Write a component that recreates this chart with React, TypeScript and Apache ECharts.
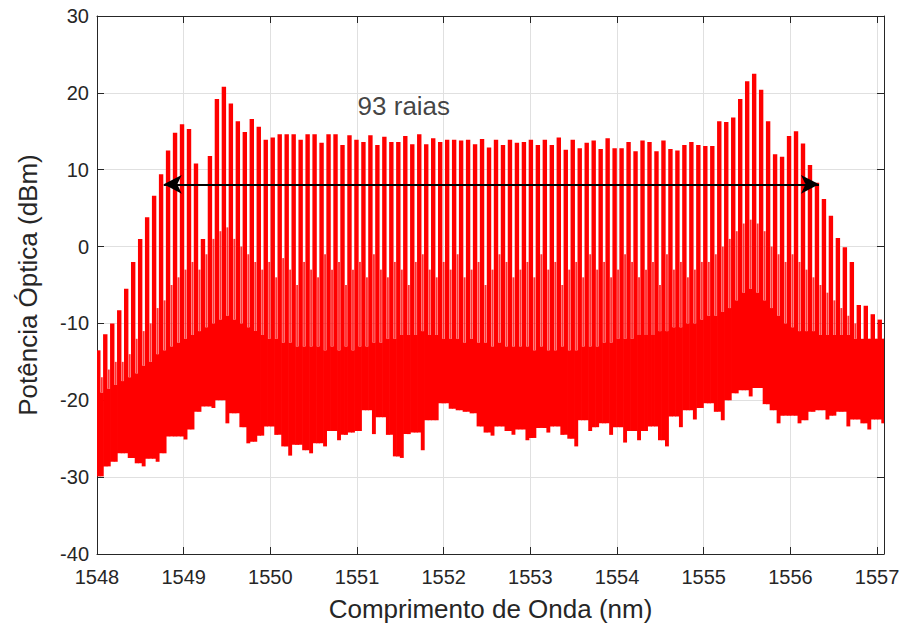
import React, { useEffect, useRef } from "react";
import * as echarts from "echarts";

// Comb grid (nm)
const COMB_START = 1548.015;
const COMB_SPACING = 0.0805;

// Peak power of each comb line (dBm), left to right
const peaks = [
  -13.5, -11.4, -10.0, -8.3, -5.5, -2.0, 1.0, 3.8, 6.6, 9.4,
  12.5, 14.8, 15.9, 15.3, 10.8, 1.0, 11.8, 19.2, 20.8, 18.6,
  16.3, 14.9, 16.6, 15.6, 13.9, 14.2, 14.6, 14.6, 14.6, 13.9,
  14.6, 14.6, 13.5, 14.6, 14.6, 13.2, 14.5, 13.9, 13.6, 14.5,
  13.2, 14.3, 13.6, 13.6, 14.4, 13.3, 14.6, 13.3, 14.1, 13.6,
  13.9, 13.9, 13.8, 13.9, 13.3, 14.0, 12.9, 13.9, 13.2, 13.9,
  13.5, 13.6, 13.9, 13.2, 13.9, 13.2, 14.2, 12.6, 13.9, 12.8,
  13.5, 13.8, 12.7, 14.1, 12.8, 12.8, 13.6, 12.4, 13.8, 13.6,
  12.4, 13.8, 12.7, 12.5, 13.2, 13.6, 13.2, 13.1, 13.1, 16.3,
  16.2, 16.8, 19.2, 21.5, 22.5, 20.4, 16.3, 12.0, 11.7, 14.4,
  15.0, 13.4, 10.6, 8.3, 6.2, 4.0, 1.1, -0.1, -2.0, -7.6,
  -7.7, -8.8, -9.5,
];

// Deepest noise dip in the gap after each comb line (dBm)
const dips = [
  -29.9, -28.6, -28.0, -26.9, -27.5, -28.2, -28.6, -27.6, -28.0, -26.9,
  -24.7, -24.7, -25.1, -23.8, -21.5, -20.8, -21.0, -20.0, -23.0, -21.7,
  -23.5, -25.6, -25.4, -24.6, -23.4, -24.5, -26.0, -27.2, -25.8, -26.5,
  -26.9, -25.6, -26.0, -24.0, -25.2, -24.5, -24.2, -24.0, -21.3, -24.4,
  -22.2, -24.5, -27.3, -27.5, -24.4, -24.2, -26.5, -22.6, -22.6, -20.4,
  -21.1, -21.3, -21.5, -21.7, -23.4, -24.2, -24.6, -23.4, -24.0, -24.5,
  -23.8, -25.2, -24.9, -23.6, -24.2, -23.4, -24.5, -25.0, -26.0, -22.6,
  -24.0, -23.5, -23.0, -24.5, -23.5, -25.5, -24.0, -25.2, -24.0, -23.4,
  -25.2, -26.0, -22.1, -23.5, -21.3, -22.5, -21.0, -20.4, -21.5, -22.6,
  -20.0, -19.1, -18.7, -19.5, -18.4, -20.5, -21.3, -23.0, -22.0, -22.0,
  -23.0, -22.6, -21.5, -21.3, -22.5, -22.0, -21.5, -23.4, -22.5, -23.0,
  -23.8, -22.5, -23.0,
];

// Top of the solid noise floor in each gap (dBm)
const floorTop = [
  -19, -18.5, -18, -17.5, -17, -16.5, -15.5, -15, -14, -13.5,
  -13, -12.5, -12, -11.5, -11,
  -10.5, -10, -9.5, -9, -9.5, -10, -10.5, -11,
  -11.5, -12, -12, -12.5, -12.5, -13, -13, -13,
  -13, -13.5, -13, -13.5, -13, -13.5, -13, -13, -12.5, -12.5,
  -12, -12, -11.5, -11.5, -11.5, -11, -11.5, -11.5, -12, -12,
  -12, -12.5, -12, -12.5, -12.5, -13, -12.5, -13, -13, -13,
  -13, -13.5, -13, -13.5, -13.5, -13, -13.5, -13.5, -13, -13,
  -13, -12.5, -12.5, -12, -12, -12, -11.5, -11.5, -11.5, -11,
  -11, -10.5, -10.5, -10, -10, -9.5, -9, -9, -8.5, -8,
  -7, -6, -5.5, -6, -7, -8, -9, -10, -10.5, -11,
  -11, -11, -11.5, -11.5, -11.5, -11.5, -11.5, -12, -12, -12, -12, -12,
];

// Secondary (inter-line) spike height in each gap (dBm)
const sideSpikes = [
  -17, -16, -15, -15, -14, -12, -11, -10, -8, -7,
  -5, -4, -3, -2, -3,
  -1, 1, 2, 2.5, 1, 0, -1, -2,
  -3, -2, -4, -1.5, -3, -5, -2, -3,
  -4, -1, -3, -2, -5, -3, -2, -4,
  -1, -3, -4, -2, -3, -5, -2, -1,
  -3, -4, -2, -3, -1, -4, -3, -2,
  -5, -3, -1, -2, -4, -3, -2, -4,
  -1, -3, -2, -5, -3, -2, -4, -1,
  -3, -2, -4, -3, -1, -2, -4, -3,
  -2, -5, -1, -3, -2, -4, -3, -2,
  -2, -1, 0, 1, 2, 3, 3.5, 3, 2, 0, -1, -2, -1, -2,
  -3, -4, -5, -6, -7, -8, -9, -10, -12, -13, -13, -14,
];

// Annotation
const ARROW_FROM = [1548.77, 8.1];
const ARROW_TO = [1556.33, 8.1];
const LABEL_AT = [1551.54, 18.3];
const LABEL_TEXT = "93 raias";

const X_MIN = 1548;
const X_MAX = 1557.08;
const Y_MIN = -40;
const Y_MAX = 30;

const RED = "#ff0000";
const INK = "#262626";
const FONT = "'Liberation Sans', Arial, Helvetica, sans-serif";

function clampRect(x0: number, x1: number, y0: number, y1: number, cs: any) {
  const left = Math.max(x0, cs.x);
  const right = Math.min(x1, cs.x + cs.width);
  if (right <= left) return null;
  const top = Math.max(Math.min(y0, y1), cs.y);
  const bot = Math.min(Math.max(y0, y1), cs.y + cs.height);
  return { x: left, y: top, width: right - left, height: Math.max(0, bot - top) };
}

function rectRenderer(widthPx: number, fill: string, opacity: number) {
  return (params: any, api: any) => {
    const x = api.value(0);
    const lo = api.value(1);
    const hi = api.value(2);
    const pHi = api.coord([x, hi]);
    const pLo = api.coord([x, lo]);
    const shape = clampRect(pHi[0] - widthPx / 2, pHi[0] + widthPx / 2, pHi[1], pLo[1], params.coordSys);
    if (!shape) return null;
    return { type: "rect", shape, style: { fill, opacity } };
  };
}

export default function App() {
  const ref = useRef<HTMLDivElement>(null);

  useEffect(() => {
    if (!ref.current) return;
    const chart = echarts.init(ref.current, null, { renderer: "svg" });

    const lineX = peaks.map((_, k) => COMB_START + k * COMB_SPACING);
    const gapX = lineX.map((x) => x + COMB_SPACING / 2);

    const combData = peaks.map((p, k) => {
      const prev = k > 0 ? dips[k - 1] : dips[0];
      const base = Math.max(prev, dips[k]);
      return [lineX[k], base, p];
    });
    const floorData = dips.map((d, k) => [gapX[k], d, floorTop[k]]);
    const sideData = sideSpikes.map((s, k) => [gapX[k], floorTop[k], s]);

    const axisCommon = {
      type: "value" as const,
      axisLine: { show: true, onZero: false, lineStyle: { color: INK, width: 1 } },
      axisTick: { show: true, inside: true, length: 7, lineStyle: { color: INK } },
    };

    const intLabel = (v: number) => (Math.abs(v - Math.round(v)) < 1e-6 ? String(Math.round(v)) : "");

    chart.setOption({
      animation: false,
      backgroundColor: "#ffffff",
      grid: { left: 97, top: 16, width: 787, height: 538, containLabel: false },
      xAxis: [
        {
          ...axisCommon,
          position: "bottom",
          min: X_MIN,
          max: X_MAX,
          interval: 1,
          axisLabel: { color: INK, fontSize: 20, fontFamily: FONT, margin: 13, formatter: intLabel },
          splitLine: { show: true, lineStyle: { color: "#e0e0e0", width: 1 } },
          name: "Comprimento de Onda (nm)",
          nameLocation: "middle",
          nameGap: 42,
          nameTextStyle: { color: INK, fontSize: 26, fontFamily: FONT },
        },
        {
          ...axisCommon,
          position: "top",
          min: X_MIN,
          max: X_MAX,
          interval: 1,
          axisLabel: { show: false },
          splitLine: { show: false },
        },
      ],
      yAxis: [
        {
          ...axisCommon,
          position: "left",
          min: Y_MIN,
          max: Y_MAX,
          interval: 10,
          axisLabel: { color: INK, fontSize: 20, fontFamily: FONT, margin: 8 },
          splitLine: { show: true, lineStyle: { color: "#e0e0e0", width: 1 } },
          name: "Potência Óptica (dBm)",
          nameLocation: "middle",
          nameGap: 56,
          nameTextStyle: { color: INK, fontSize: 26, fontFamily: FONT },
        },
        {
          ...axisCommon,
          position: "right",
          min: Y_MIN,
          max: Y_MAX,
          interval: 10,
          axisLabel: { show: false },
          splitLine: { show: false },
        },
      ],
      series: [
        {
          type: "custom",
          name: "floor",
          xAxisIndex: 0,
          yAxisIndex: 0,
          renderItem: rectRenderer(3.9, RED, 1),
          encode: { x: 0, y: [1, 2] },
          data: floorData,
          silent: true,
        },
        {
          type: "custom",
          name: "side",
          xAxisIndex: 0,
          yAxisIndex: 0,
          renderItem: rectRenderer(1.9, RED, 0.8),
          encode: { x: 0, y: [1, 2] },
          data: sideData,
          silent: true,
        },
        {
          type: "custom",
          name: "comb",
          xAxisIndex: 0,
          yAxisIndex: 0,
          renderItem: rectRenderer(4.4, RED, 1),
          encode: { x: 0, y: [1, 2] },
          data: combData,
          silent: true,
        },
        {
          type: "scatter",
          name: "annotation",
          xAxisIndex: 0,
          yAxisIndex: 0,
          symbolSize: 0,
          silent: true,
          data: [LABEL_AT],
          label: {
            show: true,
            position: "inside",
            formatter: LABEL_TEXT,
            color: "#111111",
            fontSize: 26,
            fontFamily: FONT,
          },
          markLine: {
            silent: true,
            symbol: ["arrow", "arrow"],
            symbolSize: [14, 18],
            label: { show: false },
            lineStyle: { color: "#000000", width: 2, type: "solid" },
            data: [[{ coord: ARROW_FROM }, { coord: ARROW_TO }]],
          },
        },
      ],
    });

    return () => chart.dispose();
  }, []);

  return <div ref={ref} style={{ position: "absolute", left: 0, top: 0, width: 905, height: 633 }} />;
}
